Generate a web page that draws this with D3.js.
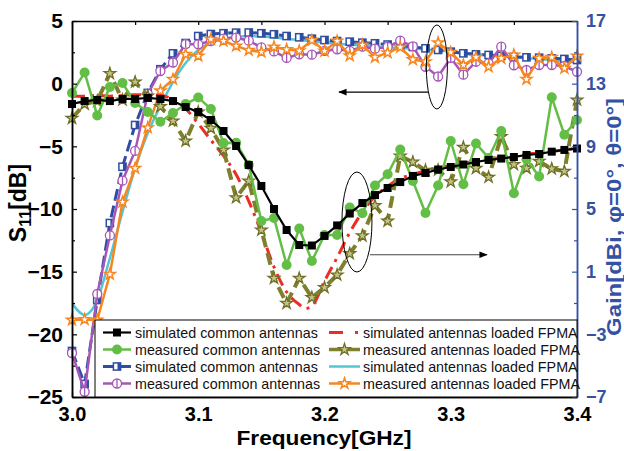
<!DOCTYPE html>
<html>
<head>
<meta charset="utf-8">
<script src="https://cdn.jsdelivr.net/npm/d3@7"></script>
<style>
  body { margin: 0; background: #fff; }
  svg { font-family: "Liberation Sans", Arial, sans-serif; }
</style>
</head>
<body>
<svg id="chart"></svg>
<script>
// frequency points (GHz)
const freq = [3.00, 3.01, 3.02, 3.03, 3.04, 3.05, 3.06, 3.07, 3.08, 3.09,
  3.10, 3.11, 3.12, 3.13, 3.14, 3.15, 3.16, 3.17, 3.18, 3.19,
  3.20, 3.21, 3.22, 3.23, 3.24, 3.25, 3.26, 3.27, 3.28, 3.29,
  3.30, 3.31, 3.32, 3.33, 3.34, 3.35, 3.36, 3.37, 3.38, 3.39, 3.40];
const redFreq = [3.00, 3.01, 3.02, 3.03, 3.04, 3.05, 3.06, 3.07, 3.08, 3.09,
  3.10, 3.11, 3.12, 3.13, 3.14, 3.15, 3.16, 3.17, 3.18, 3.185, 3.19,
  3.20, 3.21, 3.22, 3.23, 3.24, 3.25, 3.26, 3.27, 3.28, 3.29,
  3.30, 3.31, 3.32, 3.33, 3.34, 3.35, 3.36, 3.37, 3.38, 3.39, 3.40];
const cyanFreq = [3.00, 3.005, 3.01, 3.015, 3.02, 3.03, 3.04, 3.05, 3.06, 3.07,
  3.08, 3.09, 3.10, 3.11, 3.12, 3.13, 3.14, 3.15, 3.16, 3.18, 3.20, 3.22,
  3.24, 3.26, 3.28, 3.30, 3.32, 3.34, 3.36, 3.38, 3.40];

// gain curves (right axis, dBi)
const simCommonGain = [11.70, 11.89, 11.96, 11.89, 12.02, 12.02, 12.09, 12.02, 11.89, 11.51,
  11.19, 10.68, 9.98, 9.02, 7.81, 6.47, 5.00, 3.66, 2.70, 2.67,
  3.28, 3.95, 4.71, 5.38, 5.89, 6.34, 6.72, 7.11, 7.30, 7.52,
  7.68, 7.84, 8.00, 8.13, 8.22, 8.32, 8.45, 8.51, 8.66, 8.77, 8.86];
const measCommonGain = [12.4, 13.71, 10.97, 12.79, 13.04, 11.77, 11.19, 10.57, 11.13, 11.70,
  12.12, 11.38, 9.21, 9.23, 7.81, 4.23, 4.43, 1.43, 3.76, 1.68,
  3.34, 3.34, 5.10, 4.73, 6.50, 7.22, 8.80, 6.79, 4.74, 6.50,
  9.34, 6.58, 9.18, 8.26, 9.98, 6.00, 8.18, 7.07, 12.13, 9.74, 10.68];
const simLoadedGain = [12.2, 12.2, 12.25, 12.2, 12.25, 12.3, 12.3, 12.25, 12.0, 11.4,
  10.45, 9.4, 8.4, 7.2, 5.5, 3.5, 1.3, -0.3, -1.1, -1.35, -1.2,
  0.4, 1.9, 3.5, 4.8, 5.8, 6.45, 6.95, 7.2, 7.45, 7.62,
  7.78, 7.92, 8.05, 8.18, 8.3, 8.38, 8.5, 8.57, 8.68, 8.77, 8.89];
const measLoadedGain = [10.79, 11.70, 11.89, 13.65, 11.96, 13.11, 12.21, 11.54, 10.62, 9.34,
  11.19, 10.15, 8.77, 5.72, 6.79, 3.66, 0.58, -1.02, 0.58, -0.65,
  -0.01, 0.79, 2.15, 3.29, 5.22, 4.23, 8.38, 8.00, 7.47, 7.49,
  6.74, 8.94, 7.60, 7.03, 9.62, 7.84, 7.60, 8.04, 7.57, 7.41, 11.96];

// S11 curves (left axis, dB)
const simCommonS11 = [-21.33, -23.96, -17.26, -11.12, -6.63, -3.30, -0.74, 1.15, 2.42, 3.24,
  3.80, 3.96, 4.02, 4.07, 4.08, 4.02, 3.94, 3.80, 3.70, 3.59,
  3.48, 3.40, 3.35, 3.27, 3.22, 3.12, 3.05, 2.93, 2.82, 2.69,
  2.55, 2.42, 2.34, 2.29, 2.21, 2.13, 2.10, 2.07, 2.02, 1.97, 1.89];
const measCommonS11 = [-21.49, -24.58, -16.78, -12.11, -7.74, -5.37, -0.82, 1.01, 1.69, 3.16,
  3.14, 3.40, 3.60, 3.68, 3.43, 2.89, 2.57, 2.05, 2.34, 2.31,
  2.61, 2.74, 2.61, 2.95, 2.79, 2.93, 3.44, 2.97, 1.35, 0.57,
  2.05, 0.72, 1.75, 1.62, 2.95, 1.47, 1.09, 1.49, 1.49, 1.41, 0.95];
const simLoadedS11 = [-17.50, -18.14, -18.46, -18.14, -17.26, -13.91, -10.24, -6.73, -3.94, -1.78,
  0.13, 1.65, 2.69, 3.24, 3.56, 3.72, 3.80, 3.76, 3.68, 3.48, 3.28, 3.12,
  2.97, 2.85, 2.73, 2.57, 2.37, 2.21, 2.05, 1.89, 1.73];
const measLoadedS11 = [-18.86, -18.82, -18.86, -15.21, -9.44, -6.75, -3.51, -0.56, 0.35, 2.34,
  2.21, 3.54, 3.40, 3.01, 2.66, 2.53, 2.93, 2.72, 2.62, 3.46,
  2.61, 3.40, 2.23, 3.09, 2.10, 2.47, 2.90, 1.92, 1.75, 3.27,
  2.50, 1.49, 2.10, 1.35, 2.02, 2.29, 0.35, 2.02, 2.10, 1.23, 2.21];

const leftTicks = [5, 0, -5, -10, -15, -20, -25];
const leftMinor = [2.5, -2.5, -7.5, -12.5, -17.5, -22.5];
const rightTicks = [17, 13, 9, 5, 1, -3, -7];
const rightMinor = [15, 11, 7, 3, -1, -5];
const xTicks = [3.0, 3.1, 3.2, 3.3, 3.4];
const xMinor = [3.05, 3.15, 3.25, 3.35];

const margin = { top: 21, right: 47, bottom: 54, left: 72 };
const width = 624 - margin.left - margin.right;
const height = 451 - margin.top - margin.bottom;
const axisBlue = '#3452a4';

const root = d3.select('#chart').attr('width', 624).attr('height', 451);
const svg = root.append('g').attr('transform', `translate(${margin.left},${margin.top})`);

const x = d3.scaleLinear().domain([3.0, 3.4]).range([0, width]);
const yLeft = d3.scaleLinear().domain([-25, 5]).range([height, 0]);
const yRight = d3.scaleLinear().domain([-7, 17]).range([height, 0]);

svg.append('clipPath').attr('id', 'plot-clip')
  .append('rect').attr('width', width).attr('height', height);

const series = [
  { label: 'simulated common antennas', xs: freq, ys: simCommonGain, y: yRight, color: '#000', lw: 2.2, marker: 'square' },
  { label: 'measured common antennas', xs: freq, ys: measCommonGain, y: yRight, color: '#63be46', lw: 2.5, marker: 'circle' },
  { label: 'simulated common antennas', xs: freq, ys: simCommonS11, y: yLeft, color: '#2f4ea3', lw: 3, dash: '12,5', marker: 'halfsquare' },
  { label: 'measured common antennas', xs: freq, ys: measCommonS11, y: yLeft, color: '#a656b7', lw: 2.5, marker: 'phi' },
  { label: 'simulated antennas loaded FPMA', xs: redFreq, ys: simLoadedGain, y: yRight, color: '#ee2b24', lw: 3, dash: '13,6,3,6', smooth: true },
  { label: 'measured antennas loaded FPMA', xs: freq, ys: measLoadedGain, y: yRight, color: '#7f7f2e', lw: 4, dash: '12,6', marker: 'star' },
  { label: 'simulated antennas loaded FPMA', xs: cyanFreq, ys: simLoadedS11, y: yLeft, color: '#55c6d6', lw: 2.5, smooth: true },
  { label: 'measured antennas loaded FPMA', xs: freq, ys: measLoadedS11, y: yLeft, color: '#f7861f', lw: 2.5, marker: 'openstar' },
];

function drawMarker(g, type, color) {
  if (type === 'square') {
    g.append('rect').attr('x', -4).attr('y', -4).attr('width', 8).attr('height', 8).attr('fill', color);
  } else if (type === 'circle') {
    g.append('circle').attr('r', 5).attr('fill', color);
  } else if (type === 'halfsquare') {
    g.append('rect').attr('x', -3.6).attr('y', -3.6).attr('width', 7.2).attr('height', 7.2)
      .attr('fill', '#fff').attr('stroke', color).attr('stroke-width', 1.5);
    g.append('rect').attr('x', 0.5).attr('y', -3.6).attr('width', 3.1).attr('height', 7.2).attr('fill', color);
  } else if (type === 'phi') {
    g.append('circle').attr('r', 4.5).attr('fill', '#fff').attr('stroke', color).attr('stroke-width', 1.3);
    g.append('line').attr('y1', -4.5).attr('y2', 4.5).attr('stroke', color).attr('stroke-width', 1.3);
  } else if (type === 'star') {
    g.append('path').attr('d', d3.symbol(d3.symbolStar, 42)())
      .attr('fill', '#c4c48a').attr('stroke', '#6f6f25').attr('stroke-width', 1.3);
  } else if (type === 'openstar') {
    g.append('path').attr('d', d3.symbol(d3.symbolStar, 36)())
      .attr('fill', '#fff').attr('stroke', color).attr('stroke-width', 1.5);
  }
}

const drawOrder = [6, 2, 3, 7, 4, 5, 1, 0];
drawOrder.forEach(i => {
  const s = series[i];
  const pts = s.ys.map((v, k) => [s.xs[k], v]);
  const line = d3.line()
    .x(d => x(d[0]))
    .y(d => s.y(d[1]))
    .curve(s.smooth ? d3.curveMonotoneX : d3.curveLinear);
  svg.append('path')
    .datum(pts)
    .attr('clip-path', 'url(#plot-clip)')
    .attr('d', line)
    .attr('fill', 'none')
    .attr('stroke', s.color)
    .attr('stroke-width', s.lw)
    .attr('stroke-dasharray', s.dash || null);
  if (s.marker) {
    svg.append('g').selectAll('g')
      .data(pts)
      .enter()
      .append('g')
      .attr('transform', d => `translate(${x(d[0])},${s.y(d[1])})`)
      .each(function () { drawMarker(d3.select(this), s.marker, s.color); });
  }
});

// annotations: ellipses and arrows
root.append('defs').append('marker')
  .attr('id', 'arrowhead').attr('viewBox', '0 0 10 10').attr('refX', 9).attr('refY', 5)
  .attr('markerWidth', 7).attr('markerHeight', 7).attr('orient', 'auto-start-reverse')
  .append('path').attr('d', 'M0,1 L10,5 L0,9 Z').attr('fill', '#000');

svg.append('ellipse')
  .attr('cx', x(3.289)).attr('cy', yLeft(1.33)).attr('rx', 10.5).attr('ry', 42)
  .attr('fill', 'none').attr('stroke', '#000').attr('stroke-width', 1);
svg.append('line')
  .attr('x1', x(3.282)).attr('x2', x(3.2115)).attr('y1', yLeft(-0.67)).attr('y2', yLeft(-0.67))
  .attr('stroke', '#000').attr('stroke-width', 1.2).attr('marker-end', 'url(#arrowhead)');

svg.append('ellipse')
  .attr('cx', x(3.2257)).attr('cy', yRight(4.17)).attr('rx', 15).attr('ry', 50)
  .attr('fill', 'none').attr('stroke', '#000').attr('stroke-width', 1);
svg.append('line')
  .attr('x1', x(3.236)).attr('x2', x(3.3287)).attr('y1', yRight(2.08)).attr('y2', yRight(2.08))
  .attr('stroke', '#444').attr('stroke-width', 1.2).attr('marker-end', 'url(#arrowhead)');

// axes
function styleAxis(g, color, fontSize) {
  g.selectAll('.domain').attr('stroke', color).attr('stroke-width', 1.5);
  g.selectAll('.tick line').attr('stroke', color).attr('stroke-width', 1.2);
  g.selectAll('.tick text').attr('fill', color).style('font-size', fontSize + 'px')
    .style('font-weight', 'bold').style('font-family', '"Liberation Sans", Arial, sans-serif');
}

svg.append('g').call(d3.axisTop(x).tickValues(xTicks.concat(xMinor)).tickSizeInner(-4).tickSizeOuter(0).tickFormat(''))
  .call(g => styleAxis(g, '#000', 20));
svg.append('g').attr('transform', `translate(0,${height})`)
  .call(d3.axisBottom(x).tickValues(xMinor).tickSizeInner(-4).tickSizeOuter(0).tickFormat(''))
  .call(g => styleAxis(g, '#000', 20));
svg.append('g').attr('transform', `translate(0,${height})`)
  .call(d3.axisBottom(x).tickValues(xTicks).tickSizeInner(-5).tickSizeOuter(0).tickPadding(10).tickFormat(d3.format('.1f')))
  .call(g => styleAxis(g, '#000', 20));

svg.append('g')
  .call(d3.axisLeft(yLeft).tickValues(leftMinor).tickSizeInner(-3).tickSizeOuter(0).tickFormat(''))
  .call(g => styleAxis(g, '#000', 20));
svg.append('g')
  .call(d3.axisLeft(yLeft).tickValues(leftTicks).tickSizeInner(-5).tickSizeOuter(0).tickPadding(9))
  .call(g => styleAxis(g, '#000', 21));

svg.append('g').attr('transform', `translate(${width},0)`)
  .call(d3.axisRight(yRight).tickValues(rightMinor).tickSizeInner(-3).tickSizeOuter(0).tickFormat(''))
  .call(g => styleAxis(g, axisBlue, 18));
svg.append('g').attr('transform', `translate(${width},0)`)
  .call(d3.axisRight(yRight).tickValues(rightTicks).tickSizeInner(-5).tickSizeOuter(0).tickPadding(9))
  .call(g => styleAxis(g, axisBlue, 18));

// legend
const legend = svg.append('g').attr('transform', 'translate(23,299)');
legend.append('rect').attr('width', width - 23).attr('height', height - 299)
  .attr('fill', '#fff').attr('stroke', '#000').attr('stroke-width', 1);

series.forEach((s, i) => {
  const col = i < 4 ? 0 : 1;
  const row = i % 4;
  const g = legend.append('g')
    .attr('transform', `translate(${col === 0 ? 8 : 234},${12.5 + row * 17})`);
  g.append('line').attr('x1', 0).attr('x2', col === 0 ? 28 : 31)
    .attr('stroke', s.color).attr('stroke-width', s.lw > 3 ? 3.5 : s.lw)
    .attr('stroke-dasharray', i === 4 ? '14,12,3,20' : null);
  if (s.marker) {
    const m = g.append('g').attr('transform', `translate(${col === 0 ? 14 : 15.5},0)`);
    drawMarker(m, s.marker, s.color);
  }
  g.append('text')
    .attr('x', col === 0 ? 32 : 34)
    .attr('dy', '0.35em')
    .style('font-size', '14.3px')
    .attr('fill', '#111')
    .text(s.label);
});

// axis titles
root.append('text')
  .attr('x', 324).attr('y', 445)
  .attr('text-anchor', 'middle')
  .style('font-size', '21px').style('font-weight', 'bold')
  .attr('textLength', 175).attr('lengthAdjust', 'spacingAndGlyphs')
  .text('Frequency[GHz]');

const yTitle = root.append('text')
  .attr('transform', 'translate(26,203) rotate(-90)')
  .attr('text-anchor', 'middle')
  .style('font-size', '23px').style('font-weight', 'bold');
yTitle.append('tspan').text('S');
yTitle.append('tspan').attr('dy', 5).style('font-size', '16px').text('11');
yTitle.append('tspan').attr('dy', -5).text('[dB]');

root.append('text')
  .attr('transform', 'translate(621,217) rotate(-90)')
  .attr('text-anchor', 'middle')
  .attr('fill', axisBlue)
  .style('font-size', '20px').style('font-weight', 'bold')
  .attr('textLength', 238).attr('lengthAdjust', 'spacingAndGlyphs')
  .text('Gain[dBi, φ=0°, θ=0°]');
</script>
</body>
</html>
